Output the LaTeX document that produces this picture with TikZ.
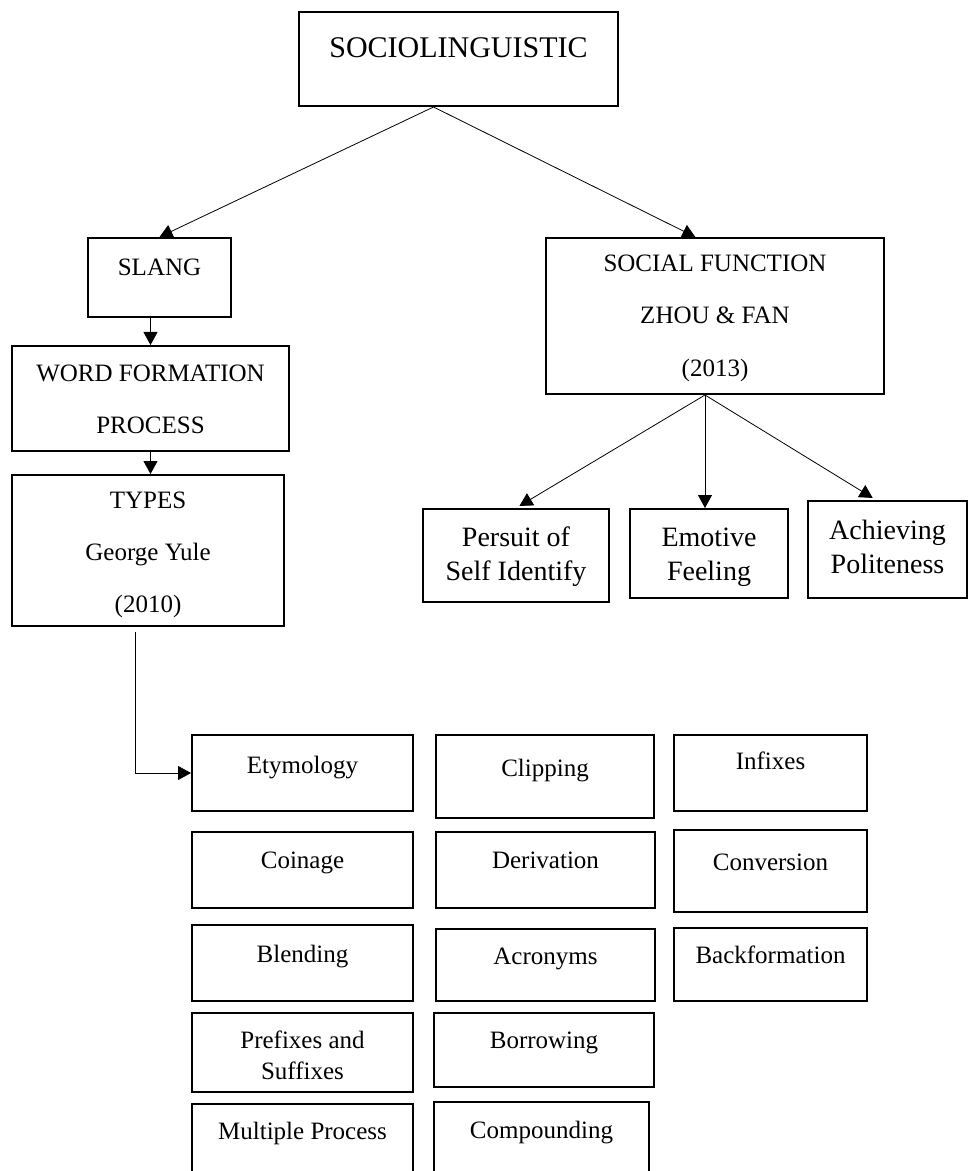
\documentclass[tikz,border=0pt]{standalone}
\usepackage{fontspec}
\setmainfont{Liberation Serif}
\usetikzlibrary{arrows.meta}
\usetikzlibrary{calc}
\tikzset{
  wbox/.style = {draw, line width=1pt, inner ysep=0pt, inner xsep=2pt,
    align=center, font=\fontsize{12.5}{26}\selectfont}
}
\tikzset{
  fnbox/.style = {font=\fontsize{14}{17}\selectfont}
}
\tikzset{
    >={Triangle[length=6.5pt,width=7pt]}
}
% box from (x1,y1) to (x2,y2), last baseline at #7
\newcommand{\wordbox}[8][]{
  \pgfmathsetmacro\wbw{(#5-#3)*0.5}
  \pgfmathsetmacro\wbh{(#7-#4)*0.5}
  \pgfmathsetmacro\wbd{(#6-#7)*0.5}
  \node[wbox, #1, anchor=north, minimum width=\wbw pt,
    text height=\wbh pt, text depth=\wbd pt] (#2) at ({(#3+#5)/2},#4) {#8};
}

\begin{document}
\begin{tikzpicture}[x=0.5pt, y=-0.5pt]
  \useasboundingbox (0,0) rectangle (969,1171);

  \wordbox[font=\fontsize{15}{26}\selectfont]{socio}{299}{11}{618}{105}{57}{SOCIOLINGUISTIC}
  \wordbox{slang}{88}{237}{231}{316}{275}{SLANG}
  \wordbox{wfp}{12}{345}{289}{450}{432}{WORD FORMATION\\PROCESS}
  \wordbox{sf}{546}{237}{884}{393}{375}{SOCIAL FUNCTION\\ZHOU \& FAN\\(2013)}
  \wordbox{types}{12}{474}{284}{625}{611}{TYPES\\George Yule\\(2010)}

  % Social functions
  \wordbox[fnbox]{persuit}{423}{508}{609}{601}{579}{Persuit of\\Self Identify}
  \wordbox[fnbox]{emotive}{630}{508}{788}{597}{579}{Emotive\\Feeling}
  \wordbox[fnbox]{achieve}{808}{500}{967}{597}{572}{Achieving\\Politeness}

  % Types of word formation
  \foreach \n/\xa/\ya/\xb/\yb/\b/\t in {
    ety/192/734/413/810/772/Etymology,
    clip/436/734/654/817/775/Clipping,
    infix/674/734/867/810/768/Infixes,
    coin/192/831/413/907/867/Coinage,
    deriv/436/831/655/907/867/Derivation,
    conv/674/829/867/911/869/Conversion,
    blend/192/924/413/1000/961/Blending,
    acro/436/928/655/1000/963/Acronyms,
    back/674/927/867/1000/962/Backformation,
    pref/192/1012/413/1091/1078/{Prefixes and\\[-10.5pt]Suffixes},
    borrow/434/1012/654/1086/1047/Borrowing,
    multi/192/1103/413/1185/1138/Multiple Process,
    comp/434/1101/649/1185/1137/Compounding}
  {
    \wordbox{\n}{\xa}{\ya}{\xb}{\yb}{\b}{\t}
  }

  % Connectors
  \coordinate (socb) at ($(socio.south)+(-25,0)$);
  \draw[->] (socb) -- (slang.north);
  \draw[->] (socb) -- (sf.104);
  \draw[->] (wfp.north |- slang.south) -- (wfp.north);
  \draw[->] (wfp.south) -- (wfp.south |- types.north);
  \draw[->] ($(types.south)+(-13,5)$) |- (ety.west);

  \coordinate (sfb) at ($(sf.south)+(-10,0)$);
  \draw[->, shorten >=2pt] (sfb) -- (persuit.north);
  \draw[->] (sfb) -- (sfb |- emotive.north);
  \draw[->, shorten >=2pt] (sfb) -- (achieve.103);
\end{tikzpicture}
\end{document}
